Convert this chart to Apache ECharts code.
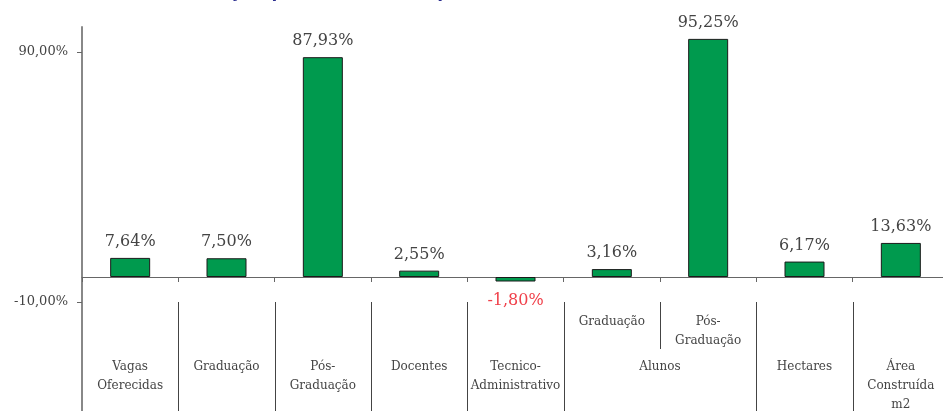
<!DOCTYPE html>
<html>
<head>
<meta charset="utf-8">
<script src="https://cdn.jsdelivr.net/npm/echarts@6/dist/echarts.min.js"></script>
<style>
  html, body { margin: 0; padding: 0; background: #fff; }
  #chart { width: 943px; height: 411px; }
</style>
</head>
<body>
<div id="chart"></div>
<script>
// data
var mainLabels = ['Vagas\nOferecidas', 'Graduação', 'Pós-\nGraduação', 'Docentes', 'Tecnico-\nAdministrativo', '', '', 'Hectares', 'Área\nConstruída\nm2'];
var subLabels = ['', '', '', '', '', 'Graduação', 'Pós-\nGraduação', '', ''];
var groupLabel = 'Alunos';
var groupSpan = [5, 6];
var values = [7.64, 7.50, 87.93, 2.55, -1.80, 3.16, 95.25, 6.17, 13.63];
var yTicks = [90, -10];

var serif = 'DejaVu Serif';
var fmt = function (v) { return v.toFixed(2).replace('.', ',') + '%'; };
var keys = values.map(function (v, i) { return 'c' + i; });

var chart = echarts.init(document.getElementById('chart'));

// labels are laid out from the bottom of the grid (y = -60), so margins are negative
var option = {
  animation: false,
  backgroundColor: '#fff',
  title: {
    text: 'Gráfico 1 – Variação percentual da expansão – 1995/2002',
    left: 60,
    top: -24,
    textStyle: { color: '#2b2e8f', fontSize: 21, fontWeight: 'bold', fontFamily: 'Liberation Sans' }
  },
  grid: { left: 82, top: 27, width: 867, height: 400, outerBoundsMode: 'none', containLabel: false },
  xAxis: [{
    type: 'category',
    data: keys,
    axisLine: { onZero: true, lineStyle: { color: '#666', width: 1 } },
    axisTick: { show: true, length: 5, lineStyle: { color: '#666' } },
    axisLabel: {
      margin: -70,
      interval: 0,
      color: '#444',
      fontFamily: serif,
      fontSize: 12,
      lineHeight: 19,
      formatter: function (v, i) { return mainLabels[i]; }
    },
    splitLine: { show: false }
  }, {
    type: 'category',
    data: keys,
    position: 'bottom',
    axisLine: { show: false, onZero: false },
    axisTick: { show: false },
    axisLabel: {
      margin: -115,
      interval: 0,
      color: '#444',
      fontFamily: serif,
      fontSize: 12,
      lineHeight: 19,
      formatter: function (v, i) { return subLabels[i]; }
    }
  }],
  yAxis: {
    type: 'value',
    min: -60,
    max: 100,
    axisLine: { show: true, lineStyle: { color: '#888', width: 2 } },
    axisTick: { show: true, length: 5, customValues: yTicks, lineStyle: { color: '#666' } },
    axisLabel: {
      customValues: yTicks,
      color: '#444',
      fontFamily: serif,
      fontSize: 13,
      margin: 14,
      formatter: function (v) { return fmt(v); }
    },
    splitLine: { show: false }
  },
  series: [{
    type: 'bar',
    barWidth: 40,
    itemStyle: { color: '#009a4e', borderColor: '#1a1a1a', borderWidth: 1 },
    label: {
      show: true,
      position: 'top',
      distance: 8,
      color: '#444',
      fontFamily: serif,
      fontSize: 16,
      formatter: function (p) { return fmt(p.value); }
    },
    data: values.map(function (v) {
      if (v < 0) {
        return { value: v, label: { position: 'bottom', distance: 11, color: '#f0404a' } };
      }
      return v;
    })
  }]
};
chart.setOption(option);

// separators and group label derived from the axis scale
var px = function (i) { return chart.convertToPixel({ xAxisIndex: 0 }, i); };
var yTop = chart.convertToPixel({ yAxisIndex: 0 }, -10);
var yBot = chart.convertToPixel({ yAxisIndex: 0 }, -60);
var graphics = [];
for (var i = 1; i < values.length; i++) {
  var x = Math.round((px(i - 1) + px(i)) / 2) + 0.5;
  var short = (i === groupSpan[1]);
  graphics.push({
    type: 'line',
    shape: { x1: x, y1: yTop, x2: x, y2: short ? yTop + 47 : yBot },
    style: { stroke: '#444', lineWidth: 1 }
  });
}
graphics.push({
  type: 'text',
  x: (px(groupSpan[0]) + px(groupSpan[1])) / 2,
  y: chart.convertToPixel({ yAxisIndex: 0 }, 0) + 90,
  style: { text: groupLabel, fill: '#444', font: '12px "DejaVu Serif"', textAlign: 'center', textVerticalAlign: 'middle' }
});
chart.setOption({ graphic: graphics });
</script>
</body>
</html>
